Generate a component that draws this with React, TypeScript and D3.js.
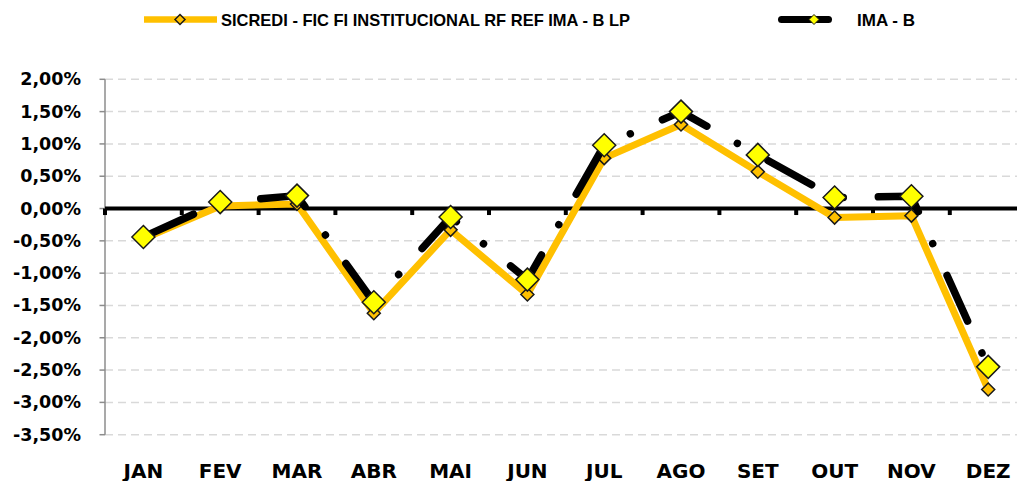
import React from 'react';
import * as d3 from 'd3';

const months = ['JAN', 'FEV', 'MAR', 'ABR', 'MAI', 'JUN', 'JUL', 'AGO', 'SET', 'OUT', 'NOV', 'DEZ'];
const sicredi = [-0.47, 0.04, 0.07, -1.62, -0.33, -1.33, 0.78, 1.3, 0.57, -0.14, -0.11, -2.8];
const imaB = [-0.44, 0.1, 0.2, -1.45, -0.13, -1.1, 0.98, 1.5, 0.83, 0.17, 0.19, -2.45];
const yTicks = [2, 1.5, 1, 0.5, 0, -0.5, -1, -1.5, -2, -2.5, -3, -3.5];

const W = 1017;
const H = 481;

const ptBR = d3.formatLocale({ decimal: ',', thousands: '.', grouping: [3], currency: ['R$', ''], minus: '-' });
const fmt = ptBR.format('.2f');

// losango (marcador estilo Excel)
const diamond = (cx: number, cy: number, r: number) =>
  `M${cx},${cy - r}L${cx + r},${cy}L${cx},${cy + r}L${cx - r},${cy}Z`;

const axisFont = '"DejaVu Sans", sans-serif';
const legendFont = '"Liberation Sans", Arial, sans-serif';

export default function App() {
  const x = d3.scaleBand<string>().domain(months).range([105, 1026.6]);
  const y = d3.scaleLinear().domain([-3.5, 2]).range([434.7, 79.3]);
  const cx = (m: string) => (x(m) ?? 0) + x.bandwidth() / 2;

  const line = d3.line<number>()
    .x((_, i) => cx(months[i]))
    .y(d => y(d));

  const boundaries = d3.range(months.length + 1).map(i => 105 + i * x.step());

  return (
    <div style={{ position: 'absolute', left: 0, top: 0 }}>
      <svg width={W} height={H} style={{ display: 'block', background: '#fff' }}>
        {/* grade */}
        {yTicks.filter(t => t !== 0).map(t => (
          <line key={t} x1={105} x2={1026.6} y1={y(t)} y2={y(t)}
            stroke="#d9d9d9" strokeWidth={1.5} strokeDasharray="8 5" />
        ))}

        {/* eixo Y */}
        <line x1={105} x2={105} y1={y(2)} y2={y(-3.5)} stroke="#8c8c8c" strokeWidth={1.5} />
        {yTicks.map(t => (
          <g key={t}>
            <line x1={99.5} x2={105} y1={y(t)} y2={y(t)} stroke="#8c8c8c" strokeWidth={1.5} />
            <text x={81} y={y(t) + 6} textAnchor="end" fontFamily={axisFont}
              fontWeight="bold" fontSize={17.5} fill="#000">{fmt(t)}%</text>
          </g>
        ))}

        {/* eixo zero */}
        <line x1={105} x2={1026.6} y1={y(0)} y2={y(0)} stroke="#000" strokeWidth={4} />
        {boundaries.map((b, i) => (
          <line key={i} x1={b} x2={b} y1={y(0)} y2={y(0) + 6.5} stroke="#000" strokeWidth={4} />
        ))}

        {/* rótulos X */}
        {months.map(m => (
          <text key={m} x={cx(m)} y={477.5} textAnchor="middle" fontFamily={axisFont}
            fontWeight="bold" fontSize={20} fill="#000">{m}</text>
        ))}

        {/* SICREDI */}
        <path d={line(sicredi) ?? ''} fill="none" stroke="#FFC000" strokeWidth={7}
          strokeLinejoin="round" />
        {sicredi.map((v, i) => (
          <path key={i} d={diamond(cx(months[i]), y(v), 6.5)} fill="#FFC000"
            stroke="#1a1a1a" strokeWidth={1.5} />
        ))}

        {/* IMA - B */}
        <path d={line(imaB) ?? ''} fill="none" stroke="#000" strokeWidth={7.5}
          strokeLinejoin="round" strokeLinecap="round" strokeDasharray="50 35 0.01 35"
          strokeDashoffset={-5} />
        {imaB.map((v, i) => (
          <path key={i} d={diamond(cx(months[i]), y(v), 11.5)} fill="#FFFF00"
            stroke="#1a1a1a" strokeWidth={1.5} />
        ))}

        {/* legenda */}
        <line x1={144} x2={217} y1={19.5} y2={19.5} stroke="#FFC000" strokeWidth={6.5} />
        <path d={diamond(180, 19.5, 5)} fill="#FFC000" stroke="#1a1a1a" strokeWidth={1.5} />
        <text x={221} y={25.5} fontFamily={legendFont} fontWeight="bold" fontSize={17}
          textLength={409} lengthAdjust="spacingAndGlyphs">
          SICREDI - FIC FI INSTITUCIONAL RF REF IMA - B LP
        </text>

        <line x1={781.5} x2={828.5} y1={19.5} y2={19.5} stroke="#000" strokeWidth={7}
          strokeLinecap="round" />
        <path d={diamond(814, 19.5, 5)} fill="#FFFF00" stroke="#1a1a1a" strokeWidth={1} />
        <text x={857} y={25.5} fontFamily={legendFont} fontWeight="bold" fontSize={17}>IMA - B</text>
      </svg>
    </div>
  );
}
